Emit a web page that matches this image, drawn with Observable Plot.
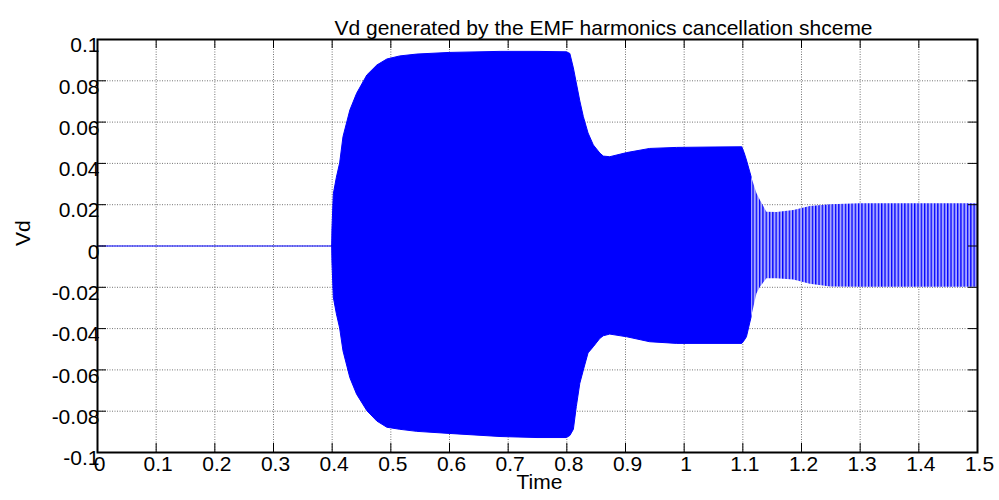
<!DOCTYPE html>
<html>
<head>
<meta charset="utf-8">
<script src="https://cdn.jsdelivr.net/npm/d3@7"></script>
<script src="https://cdn.jsdelivr.net/npm/@observablehq/plot@0.6"></script>
<style>
  html, body { margin: 0; padding: 0; background: #fff; }
  #chart svg { display: block; }
</style>
</head>
<body>
<div id="chart"></div>
<script>
// ---- data ----
const titleText = "Vd generated by the EMF harmonics cancellation shceme";
const xLabelText = "Time";
const yLabelText = "Vd";

const xTicks = [0, 0.1, 0.2, 0.3, 0.4, 0.5, 0.6, 0.7, 0.8, 0.9, 1.0, 1.1, 1.2, 1.3, 1.4, 1.5];
const xTickLabels = ["0", "0.1", "0.2", "0.3", "0.4", "0.5", "0.6", "0.7", "0.8", "0.9", "1", "1.1", "1.2", "1.3", "1.4", "1.5"];
const yTicks = [-0.1, -0.08, -0.06, -0.04, -0.02, 0, 0.02, 0.04, 0.06, 0.08, 0.1];
const yTickLabels = ["-0.1", "-0.08", "-0.06", "-0.04", "-0.02", "0", "0.02", "0.04", "0.06", "0.08", "0.1"];

// flat (zero) part of the signal before the oscillation starts
const flatT = [0, 0.4];
const flatV = [0, 0];

// envelope of the oscillating Vd signal (time, upper peak, lower peak)
const envT = [0.4, 0.4005, 0.4028, 0.408, 0.4136, 0.4193, 0.431, 0.4425, 0.46, 0.477, 0.494, 0.516, 0.545, 0.6, 0.687, 0.75, 0.8, 0.806, 0.812, 0.817, 0.823, 0.829, 0.837, 0.846, 0.857, 0.863, 0.874, 0.903, 0.942, 0.988, 1.05, 1.099, 1.103, 1.107, 1.115, 1.124, 1.13, 1.141, 1.158, 1.187, 1.215, 1.25, 1.3, 1.4, 1.5];
const envUpper = [0, 0.008, 0.025, 0.033, 0.040, 0.0527, 0.0656, 0.0737, 0.0826, 0.0874, 0.0903, 0.0918, 0.0927, 0.0935, 0.094, 0.094, 0.0938, 0.093, 0.086, 0.0787, 0.070, 0.0624, 0.0545, 0.0487, 0.0448, 0.0433, 0.043, 0.045, 0.047, 0.0475, 0.0477, 0.0478, 0.045, 0.0414, 0.0333, 0.0254, 0.022, 0.0164, 0.0162, 0.0172, 0.0191, 0.0200, 0.0204, 0.0204, 0.0204];
const envLower = [0, -0.008, -0.025, -0.033, -0.040, -0.051, -0.064, -0.072, -0.080, -0.085, -0.088, -0.089, -0.090, -0.091, -0.0925, -0.093, -0.093, -0.092, -0.089, -0.078, -0.0667, -0.0603, -0.052, -0.049, -0.045, -0.0437, -0.0429, -0.0442, -0.0466, -0.0474, -0.0474, -0.0474, -0.046, -0.0442, -0.0345, -0.0232, -0.020, -0.0159, -0.0159, -0.0165, -0.0185, -0.0198, -0.020, -0.020, -0.020];
// where the dense (solid) oscillation turns into visibly separate cycles
const splitT = 1.115;

// ---- build tables ----
const env = envT.map((t, i) => ({t, hi: envUpper[i], lo: envLower[i]}));
const envSolid = env.filter(d => d.t <= splitT);
const envStriped = env.filter(d => d.t >= splitT);
const flat = flatT.map((t, i) => ({t, v: flatV[i]}));
const xTickRows = xTicks.map((v, i) => ({v, label: xTickLabels[i]}));
const yTickRows = yTicks.map((v, i) => ({v, label: yTickLabels[i]}));

const W = 999, H = 500;
const mL = 97, mR = 22, mT = 39, mB = 48;
const fw = W - mL - mR, fh = H - mT - mB;
const tickLen = 9;
const font = "'Liberation Sans', Arial, Helvetica, sans-serif";
const blue = "#0000ff";

const plot = Plot.plot({
  width: W,
  height: H,
  marginLeft: mL,
  marginRight: mR,
  marginTop: mT,
  marginBottom: mB,
  x: {domain: [0, 1.5], axis: null},
  y: {domain: [-0.1, 0.1], axis: null},
  style: {fontFamily: font, background: "#fff", color: "#000", overflow: "visible"},
  marks: [
    // dotted grid
    Plot.ruleX(xTicks, {x: d => d, stroke: "#000", strokeOpacity: 0.55, strokeDasharray: "1,1.5"}),
    Plot.ruleY(yTicks, {y: d => d, stroke: "#000", strokeOpacity: 0.55, strokeDasharray: "1,1.5"}),
    // flat signal
    Plot.lineY(flat, {x: "t", y: "v", stroke: blue, strokeWidth: 1}),
    // dense oscillation band
    Plot.areaY(envSolid, {x: "t", y1: "lo", y2: "hi", fill: blue, stroke: blue, strokeWidth: 1, curve: "linear"}),
    // separated cycles band
    Plot.areaY(envStriped, {x: "t", y1: "lo", y2: "hi", fill: "url(#vdStripes)", curve: "linear"}),
    // frame
    Plot.frame({stroke: "#000", strokeWidth: 2}),
    // inward ticks on all four sides
    Plot.ruleX(xTicks, {x: d => d, insetTop: fh - tickLen, stroke: "#000"}),
    Plot.ruleX(xTicks, {x: d => d, insetBottom: fh - tickLen, stroke: "#000"}),
    Plot.ruleY(yTicks, {y: d => d, insetRight: fw - tickLen, stroke: "#000"}),
    Plot.ruleY(yTicks, {y: d => d, insetLeft: fw - tickLen, stroke: "#000"}),
    // tick labels
    Plot.text(xTickRows, {x: "v", text: "label", frameAnchor: "bottom", dy: 18, dx: 2, fontSize: 21, fill: "#000"}),
    Plot.text(yTickRows, {y: "v", text: "label", frameAnchor: "left", textAnchor: "end", dx: 2, dy: 6, fontSize: 21, fill: "#000"}),
    // titles
    Plot.text([titleText], {text: d => d, frameAnchor: "top", dx: 66, dy: -19, fontSize: 21, fill: "#000"}),
    Plot.text([xLabelText], {text: d => d, frameAnchor: "bottom", dx: 2, dy: 36, fontSize: 21, fill: "#000"}),
    Plot.text([yLabelText], {text: d => d, frameAnchor: "left", dx: -74, rotate: -90, fontSize: 21, fill: "#000"})
  ]
});

// stripe pattern for the visibly separate oscillation cycles
d3.select(plot).insert("defs", ":first-child").html(
  '<pattern id="vdStripes" patternUnits="userSpaceOnUse" width="3.3" height="10">' +
  '<rect x="0" y="0" width="3.3" height="10" fill="#a8a8ff"/>' +
  '<rect x="0" y="0" width="1.3" height="10" fill="#0000ff"/>' +
  '</pattern>'
);

document.getElementById("chart").appendChild(plot);
</script>
</body>
</html>
